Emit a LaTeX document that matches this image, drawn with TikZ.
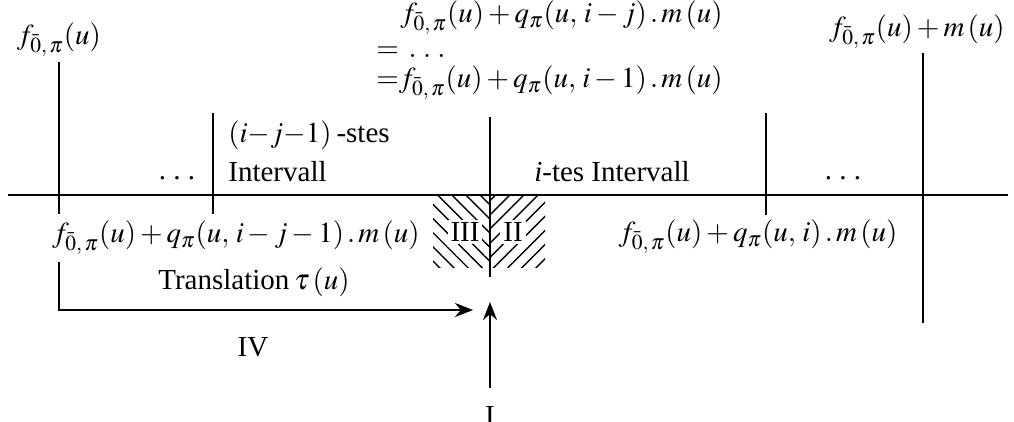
\documentclass[tikz,border=0pt]{standalone}
\usepackage{mathptmx}
\usepackage{fontspec}
\setmainfont{Liberation Serif}
\usetikzlibrary{arrows.meta, patterns.meta, positioning}

\newcommand{\fnull}{f_{\bar{0},\,\pi}}

\begin{document}
\begin{tikzpicture}[x=0.5pt, y=-0.5pt,
        line/.style={line width=1.4pt},
        arrow/.style={-{Stealth[length=9pt, width=7pt]}, line width=1.4pt},
        lbl/.style={inner sep=0.5pt, font=\fontsize{14.5}{17}\selectfont},
        hatchleft/.style={pattern={Lines[angle=-45, distance=5pt, line width=0.7pt]}, minimum width=28.5pt, minimum height=36.5pt, inner sep=0pt},
        hatchright/.style={pattern={Lines[angle=45, distance=5pt, line width=0.7pt]}, minimum width=27.5pt, minimum height=36.5pt, inner sep=0pt},
        roman/.style={lbl, fill=white, inner sep=1.5pt}
    ]
        \useasboundingbox (0,0) rectangle (1014,422);

        % hatched zones around the i-th point
        \node[hatchleft] (hl) at (461.5,231.5) {};
        \node[hatchright] (hr) at (517.5,231.5) {};
        \node[roman] (three) at (465,232) {III};
        \node[roman] (two) at (513,232) {II};

        % axis and ticks
        \coordinate (axl) at (8,195);
        \coordinate (axr) at (1008,195);
        \coordinate (t1a) at (59,62);    \coordinate (t1b) at (59,214);
        \coordinate (t2a) at (213,113);  \coordinate (t2b) at (213,214);
        \coordinate (t3a) at (490,117);  \coordinate (t3b) at (490,277);
        \coordinate (t4a) at (766,113);  \coordinate (t4b) at (766,215);
        \coordinate (t5a) at (923,53);   \coordinate (t5b) at (923,323);
        \draw[line] (axl) -- (axr);
        \draw[line] (t1a) -- (t1b);
        \draw[line] (t2a) -- (t2b);
        \draw[line] (t3a) -- (t3b);
        \draw[line] (t4a) -- (t4b);
        \draw[line] (t5a) -- (t5b);

        % labels above the axis
        \node[lbl] (fzero) at (59,40) {$\fnull(u)$};
        \node[lbl, anchor=west] (top1) at (399,18) {$\fnull(u)+q_\pi(u,\,i-j)\,.\,m\,(u)$};
        \node[lbl, anchor=west] (top2) at (375,52) {$=\,.\;.\;.$};
        \node[lbl, anchor=west] (top3) at (375,83) {${=}\fnull(u)+q_\pi(u,\,i-1)\,.\,m\,(u)$};
        \node[lbl] (topr) at (917,32) {$\fnull(u)+m\,(u)$};
        \node[lbl, anchor=west] (stes) at (227,135) {$(i{-}j{-}1)$\,-stes};
        \node[lbl, anchor=west] (intv) at (227,172) {Intervall};
        \node[lbl, anchor=base] (dotsl) at (177,180) {.\ .\ .};
        \node[lbl] (ites) at (612,172) {\textit{i}-tes Intervall};
        \node[lbl, anchor=base] (dotsr) at (843,180) {.\ .\ .};

        % labels below the axis
        \node[lbl] (low1) at (236,238) {$\fnull(u)+q_\pi(u,\,i-j-1)\,.\,m\,(u)$};
        \node[lbl] (low2) at (758,237) {$\fnull(u)+q_\pi(u,\,i)\,.\,m\,(u)$};
        \node[lbl] (trans) at (254,282) {Translation\,$\tau\,(u)$};
        \node[lbl] (four) at (253,347) {IV};
        \node[lbl] (one) at (490,416) {I};

        % translation arrow and arrow I
        \coordinate (trs) at (59,262);
        \coordinate (tre) at (473,310);
        \coordinate (upa) at (490,388);
        \coordinate (upb) at (490,302);
        \draw[arrow] (trs) |- (tre);
        \draw[arrow] (upa) -- (upb);
    \end{tikzpicture}
\end{document}
